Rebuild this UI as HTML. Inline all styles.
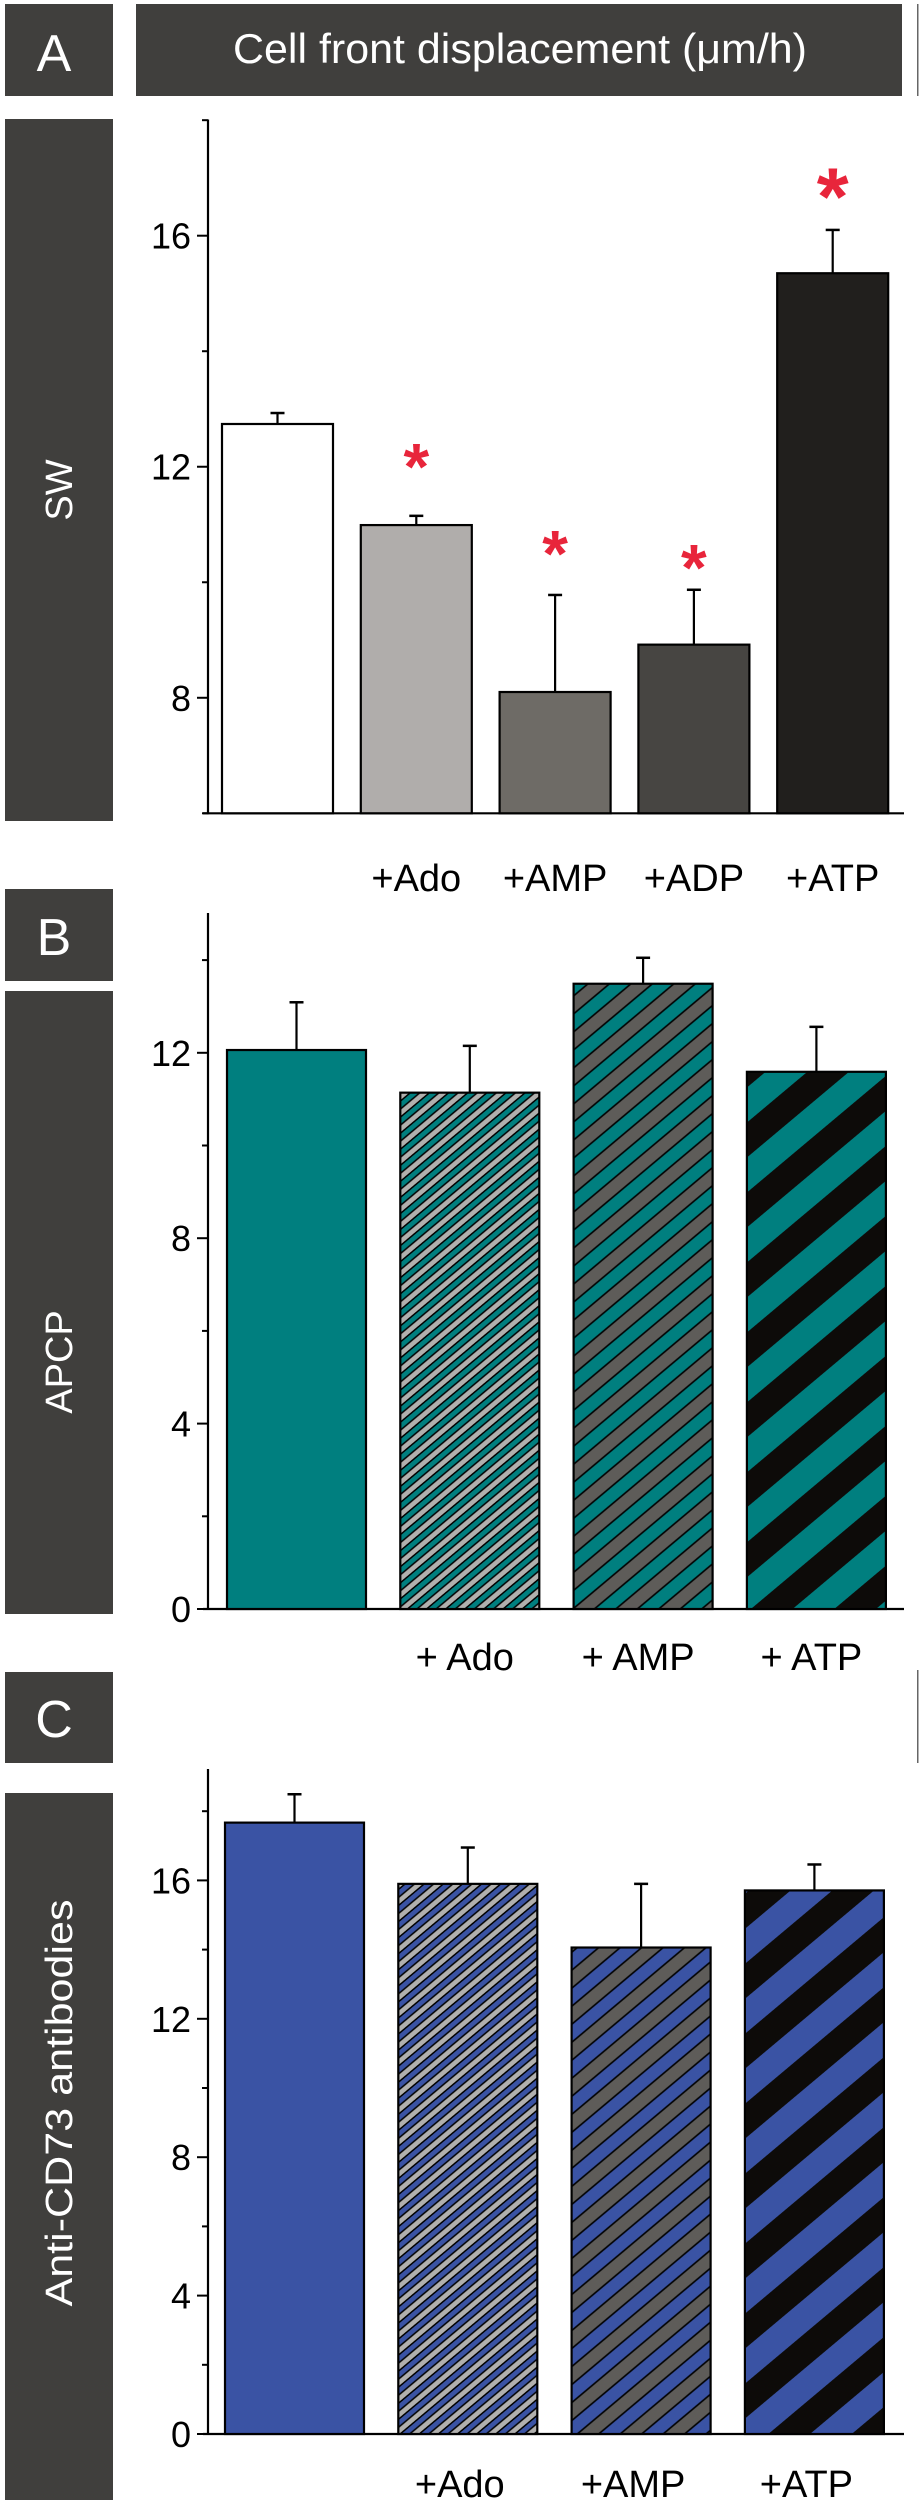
<!DOCTYPE html>
<html><head><meta charset="utf-8"><style>
html,body{margin:0;padding:0;background:#fff;}
svg{display:block;font-family:"Liberation Sans",sans-serif;}
</style></head><body>
<svg id="fig" width="922" height="2500" viewBox="0 0 922 2500" xmlns="http://www.w3.org/2000/svg">
<defs>
<pattern id="pB2" patternUnits="userSpaceOnUse" width="40" height="12.3" patternTransform="rotate(-40)"><rect width="40" height="12.3" fill="#b1b0ae"/><rect y="6.15" width="40" height="6.15" fill="#007f7f"/><rect y="5.4" width="40" height="1.5" fill="#000"/><rect y="11.55" width="40" height="1.5" fill="#000"/><rect y="-0.75" width="40" height="1.5" fill="#000"/></pattern>
<pattern id="pB3" patternUnits="userSpaceOnUse" width="40" height="27.6" patternTransform="rotate(-40)"><rect width="40" height="27.6" fill="#5e5c59"/><rect y="13.8" width="40" height="13.8" fill="#007f7f"/><rect y="13" width="40" height="1.6" fill="#000"/><rect y="26.8" width="40" height="1.6" fill="#000"/><rect y="-0.8" width="40" height="1.6" fill="#000"/></pattern>
<pattern id="pB4" patternUnits="userSpaceOnUse" width="60" height="53.6" patternTransform="rotate(-40)"><rect width="60" height="53.6" fill="#0d0b09"/><rect y="26.8" width="60" height="26.8" fill="#007f7f"/></pattern>
<pattern id="pC2" patternUnits="userSpaceOnUse" width="40" height="12.3" patternTransform="rotate(-40)"><rect width="40" height="12.3" fill="#b1b0ae"/><rect y="6.15" width="40" height="6.15" fill="#3a53a4"/><rect y="5.4" width="40" height="1.5" fill="#000"/><rect y="11.55" width="40" height="1.5" fill="#000"/><rect y="-0.75" width="40" height="1.5" fill="#000"/></pattern>
<pattern id="pC3" patternUnits="userSpaceOnUse" width="40" height="27.6" patternTransform="rotate(-40)"><rect width="40" height="27.6" fill="#5e5c59"/><rect y="13.8" width="40" height="13.8" fill="#3a53a4"/><rect y="13" width="40" height="1.6" fill="#000"/><rect y="26.8" width="40" height="1.6" fill="#000"/><rect y="-0.8" width="40" height="1.6" fill="#000"/></pattern>
<pattern id="pC4" patternUnits="userSpaceOnUse" width="60" height="53.6" patternTransform="rotate(-40)"><rect width="60" height="53.6" fill="#0d0b09"/><rect y="26.8" width="60" height="26.8" fill="#3a53a4"/></pattern>
</defs>

<!-- Header boxes -->
<rect x="5" y="4" width="108" height="92" fill="#403f3d"/>
<text x="54" y="71" font-size="52" fill="#fff" text-anchor="middle">A</text>
<rect x="136" y="4" width="766" height="92" fill="#403f3d"/>
<text x="520" y="63" font-size="42" fill="#fff" text-anchor="middle" textLength="574" lengthAdjust="spacingAndGlyphs">Cell front displacement (μm/h)</text>
<rect x="917" y="4" width="1.5" height="92" fill="#666"/>
<rect x="5" y="119" width="108" height="702" fill="#403f3d"/>
<text transform="translate(72,490) rotate(-90)" font-size="38" fill="#fff" text-anchor="middle">SW</text>

<rect x="5" y="889" width="108" height="92" fill="#403f3d"/>
<text x="54" y="955" font-size="52" fill="#fff" text-anchor="middle">B</text>
<rect x="5" y="991" width="108" height="623" fill="#403f3d"/>
<text transform="translate(72,1362) rotate(-90)" font-size="38" fill="#fff" text-anchor="middle">APCP</text>

<rect x="5" y="1672" width="108" height="91" fill="#403f3d"/>
<text x="54" y="1737" font-size="52" fill="#fff" text-anchor="middle">C</text>
<rect x="917" y="1670" width="1.5" height="93" fill="#666"/>
<rect x="5" y="1793" width="108" height="707" fill="#403f3d"/>
<text transform="translate(72,2103) rotate(-90)" font-size="38" fill="#fff" text-anchor="middle" textLength="407" lengthAdjust="spacingAndGlyphs">Anti-CD73 antibodies</text>

<g id="chartA"></g>
<g id="chartB"></g>
<g id="chartC"></g>
</svg>
<script>
// Panel A data
const catsA = ["", "+Ado", "+AMP", "+ADP", "+ATP"];
const valsA = [12.74, 10.99, 8.1, 8.92, 15.35];
const errA = [12.93, 11.15, 9.78, 9.87, 16.1];
const starA = [null, 12.27, 10.76, 10.52, 17.01];
const ticksA = [8, 12, 16];
const minorA = [6, 10, 14, 18];
const fillsA = ["#ffffff", "#b0adab", "#6e6b66", "#474542", "#211f1d"];
// Panel B data
const catsB = ["", "+ Ado", "+ AMP", "+ ATP"];
const valsB = [12.06, 11.14, 13.49, 11.59];
const errB = [13.09, 12.15, 14.05, 12.56];
const ticksB = [0, 4, 8, 12];
const minorB = [2, 6, 10, 14];
const fillsB = ["#007f7f", "url(#pB2)", "url(#pB3)", "url(#pB4)"];
// Panel C data
const catsC = ["", "+Ado", "+AMP", "+ATP"];
const valsC = [17.67, 15.9, 14.06, 15.71];
const errC = [18.49, 16.95, 15.9, 16.46];
const ticksC = [0, 4, 8, 12, 16];
const minorC = [2, 6, 10, 14, 18];
const fillsC = ["#3a53a4", "url(#pC2)", "url(#pC3)", "url(#pC4)"];

const NS = "http://www.w3.org/2000/svg";
function mk(parent, tag, attrs) {
  const e = document.createElementNS(NS, tag);
  for (const k in attrs) e.setAttribute(k, attrs[k]);
  parent.appendChild(e);
  return e;
}
function drawChart(g, cfg) {
  const yScale = v => cfg.base - (v - cfg.vmin) * cfg.unit;
  const xLeft = i => cfg.x0 + i * cfg.step;
  const ax = mk(g, "line", {x1: 208, y1: cfg.top, x2: 208, y2: cfg.base + 1, stroke: "#000", "stroke-width": 2.2});
  
  
  const xa = mk(g, "line", {x1: 203, y1: cfg.base, x2: 904, y2: cfg.base, stroke: "#000", "stroke-width": 2.2});
  
  
  cfg.ticks.forEach(t => {
    const y = yScale(t);
    const tk = mk(g, "line", {x1: 197, y1: y, x2: 208, y2: y, stroke: "#000", "stroke-width": 2});
    
    
    const tl = mk(g, "text", {x: 191, y: y + 13, "font-size": 36, "text-anchor": "end", fill: "#000"});
    tl.textContent = String(t);
    
    
  });
  cfg.minor.forEach(t => {
    const y = yScale(t);
    const tk = mk(g, "line", {x1: 202, y1: y, x2: 208, y2: y, stroke: "#000", "stroke-width": 2});
    
    
  });
  cfg.vals.forEach((v, i) => {
    const x = xLeft(i), cx = x + cfg.w / 2;
    const ytop = yScale(v), yerr = yScale(cfg.err[i]);
    const eb = mk(g, "line", {x1: cx, y1: yerr, x2: cx, y2: ytop, stroke: "#000", "stroke-width": 2.2});
    
    
    const cap = mk(g, "line", {x1: cx - 7, y1: yerr, x2: cx + 7, y2: yerr, stroke: "#000", "stroke-width": 2.5});
    
    
    const r = mk(g, "rect", {x: x, y: ytop, width: cfg.w, height: cfg.base - ytop, fill: cfg.fills[i], stroke: "#000", "stroke-width": 2.2});
    
    
    if (cfg.cats[i]) {
      const lb = mk(g, "text", {x: cx + cfg.labelDx, y: cfg.labelY, "font-size": 38, "text-anchor": "middle", fill: "#000"});
      lb.textContent = cfg.cats[i];
      
      
    }
    if (cfg.stars && cfg.stars[i] != null) {
      const big = i === cfg.vals.length - 1;
      const fs = big ? 82 : 66;
      const st = mk(g, "text", {x: cx, y: yScale(cfg.stars[i]) + fs * 0.58, "font-size": fs, "font-weight": "bold", "text-anchor": "middle", fill: "#e8253b"});
      st.textContent = "*";
      
      
    }
  });
}
drawChart(document.getElementById("chartA"), {vmin: 6, base: 813.3, unit: 57.76, top: 119.5, x0: 222, step: 138.8, w: 111,
  vals: valsA, err: errA, stars: starA, ticks: ticksA, minor: minorA, fills: fillsA, cats: catsA, labelY: 891, labelDx: 0});
drawChart(document.getElementById("chartB"), {vmin: 0, base: 1609, unit: 46.35, top: 913, x0: 227, step: 173.3, w: 139,
  vals: valsB, err: errB, stars: null, ticks: ticksB, minor: minorB, fills: fillsB, cats: catsB, labelY: 1670, labelDx: -5});
drawChart(document.getElementById("chartC"), {vmin: 0, base: 2434, unit: 34.6, top: 1769, x0: 225, step: 173.3, w: 139,
  vals: valsC, err: errC, stars: null, ticks: ticksC, minor: minorC, fills: fillsC, cats: catsC, labelY: 2497, labelDx: -8});
</script>
</body></html>
